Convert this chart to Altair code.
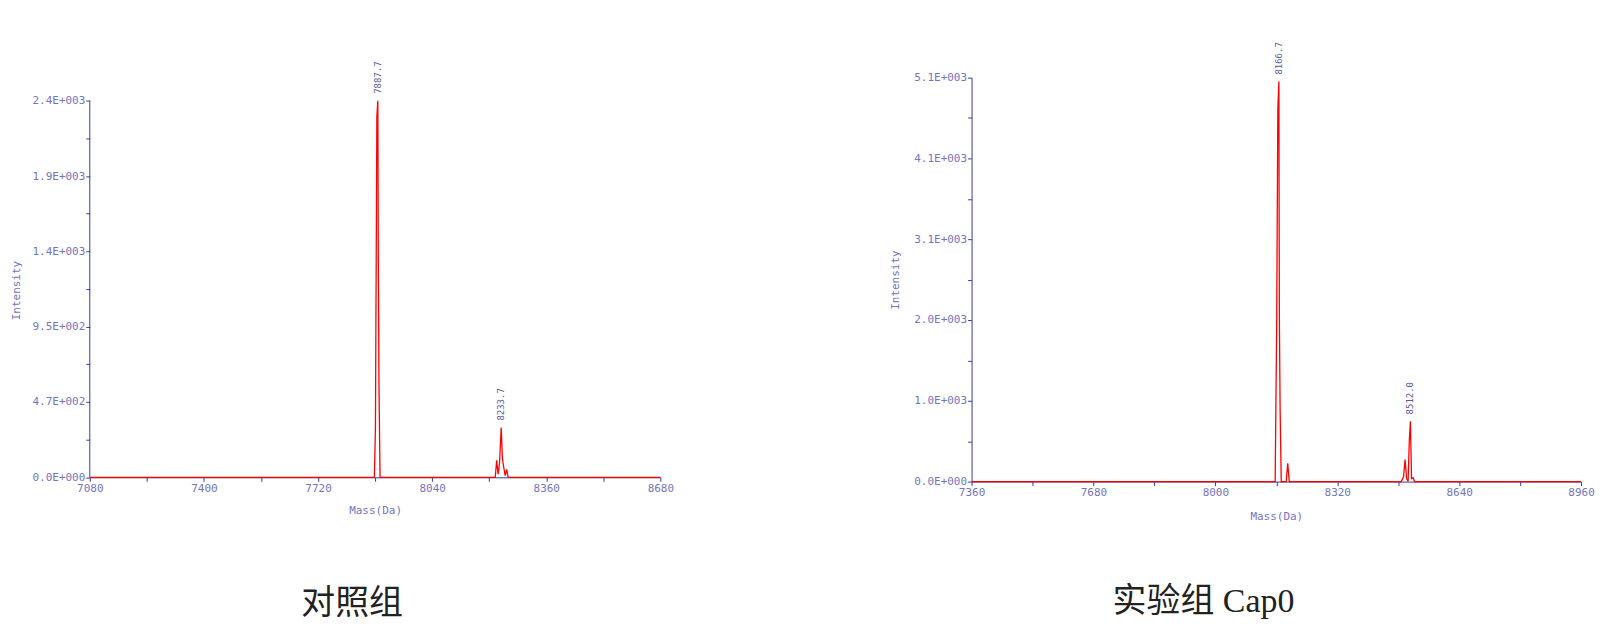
import altair as alt
import pandas as pd

# ---------------- data ----------------
# 对照组 (control) spectrum
CTRL_MASS = [7080, 7870, 7878, 7881, 7885, 7887.7, 7889, 7891, 7894,
             8205, 8217, 8221, 8225, 8229, 8233.7, 8237, 8241, 8245, 8249, 8253, 8680]
CTRL_INTENSITY = [0, 0, 0, 310, 2270, 2370, 1380, 560, 0,
                  0, 0, 107, 20, 90, 313, 120, 60, 10, 50, 0, 0]
CTRL_PEAK_MASS = [7887.7, 8233.7]
CTRL_PEAK_INTENSITY = [2370, 313]
CTRL_PEAK_LABEL = ["7887.7", "8233.7"]
CTRL_Y_TICKS = [0, 474, 948, 1422, 1896, 2370]
CTRL_Y_LABELS = ["0.0E+000", "4.7E+002", "9.5E+002", "1.4E+003", "1.9E+003", "2.4E+003"]
CTRL_X_TICKS = [7080, 7400, 7720, 8040, 8360, 8680]

# 实验组 Cap0 (experiment) spectrum
EXP_MASS = [7360, 8150, 8157, 8161, 8164, 8166.7, 8168, 8170, 8173,
            8186, 8190, 8194,
            8488, 8494, 8498, 8502, 8506, 8509, 8512, 8515, 8519, 8523, 8960]
EXP_INTENSITY = [0, 0, 0, 2000, 4700, 5050, 2100, 900, 0,
                 0, 230, 0,
                 0, 60, 277, 40, 0, 500, 760, 40, 50, 0, 0]
EXP_PEAK_MASS = [8166.7, 8512.0]
EXP_PEAK_INTENSITY = [5050, 760]
EXP_PEAK_LABEL = ["8166.7", "8512.0"]
EXP_Y_TICKS = [0, 1020, 2040, 3060, 4080, 5100]
EXP_Y_LABELS = ["0.0E+000", "1.0E+003", "2.0E+003", "3.1E+003", "4.1E+003", "5.1E+003"]
EXP_X_TICKS = [7360, 7680, 8000, 8320, 8640, 8960]

CAPTIONS = ["对照组", "实验组 Cap0"]

# ---------------- styling ----------------
AXIS_COLOR = "#3a3aa8"
LABEL_COLOR = "#7474c4"
PEAK_LABEL_COLOR = "#5a5a9c"
LINE_COLOR = "#ff0000"
MONO = "DejaVu Sans Mono"
CAPTION_FONT = "Liberation Serif, Noto Sans CJK SC"


def quarter_ticks(major):
    out = []
    for a, b in zip(major[:-1], major[1:]):
        step = (b - a) / 4
        out += [a + i * step for i in range(4)]
    out.append(major[-1])
    return out


def label_expr(values, labels):
    v = "[" + ",".join(repr(x) for x in values) + "]"
    lab = "[" + ",".join("'" + s + "'" for s in labels) + "]"
    return f"indexof({v}, datum.value) >= 0 ? {lab}[indexof({v}, datum.value)] : ''"


def panel(mass, inten, pk_m, pk_i, pk_l, x_major, y_major, y_labels,
          y_domain, width, height, x_offset, title_y, caption, cap_dx, cap_offset,
          own_y_rule, x_title_pad, y_title_pad):
    spec = pd.DataFrame({"mass": mass, "intensity": inten})
    peaks = pd.DataFrame({"mass": pk_m, "intensity": pk_i, "label": pk_l})

    xs = alt.Scale(domain=[x_major[0], x_major[-1]], nice=False, zero=False)
    ys = alt.Scale(domain=y_domain, nice=False, zero=False)

    x_axis = alt.Axis(
        values=quarter_ticks(x_major),
        labelExpr=label_expr(x_major, [str(v) for v in x_major]),
        title="Mass(Da)", grid=False, domainColor=AXIS_COLOR, domainWidth=1,
        tickColor=AXIS_COLOR, tickSize=4, labelColor=LABEL_COLOR, labelFont=MONO,
        labelFontSize=11, labelPadding=1, labelFlush=False, labelOverlap=False,
        titleFont=MONO, titleFontSize=11, titleFontWeight="normal",
        titleColor=LABEL_COLOR, titlePadding=x_title_pad, offset=x_offset,
    )
    y_kwargs = {}
    if title_y is not None:
        y_kwargs["titleY"] = title_y
    y_axis = alt.Axis(
        values=quarter_ticks(y_major),
        labelExpr=label_expr(y_major, y_labels),
        title="Intensity", grid=False, domain=not own_y_rule,
        domainColor=AXIS_COLOR, domainWidth=1,
        tickColor=AXIS_COLOR, tickSize=4, labelColor=LABEL_COLOR, labelFont=MONO,
        labelFontSize=11, labelPadding=1, labelOverlap=False, labelFlush=False,
        titleFont=MONO, titleFontSize=11, titleFontWeight="normal",
        titleColor=LABEL_COLOR, titlePadding=y_title_pad, **y_kwargs,
    )

    line = alt.Chart(spec).mark_line(color=LINE_COLOR, strokeWidth=1.3).encode(
        x=alt.X("mass:Q", scale=xs, axis=x_axis),
        y=alt.Y("intensity:Q", scale=ys, axis=y_axis),
    )
    text = alt.Chart(peaks).mark_text(
        angle=270, align="left", baseline="middle", dx=7,
        font=MONO, fontSize=9, color=PEAK_LABEL_COLOR,
    ).encode(x="mass:Q", y="intensity:Q", text="label:N")

    layers = [line, text]
    if own_y_rule:
        axis_df = pd.DataFrame({"mass": [x_major[0]], "lo": [y_major[0]], "hi": [y_major[-1]]})
        rule = alt.Chart(axis_df).mark_rule(color=AXIS_COLOR, strokeWidth=1).encode(
            x="mass:Q", y="lo:Q", y2="hi:Q")
        layers.append(rule)

    return alt.layer(*layers).properties(
        width=width, height=height,
        title=alt.TitleParams(
            caption, orient="bottom", anchor="middle", dx=cap_dx, offset=cap_offset,
            font=CAPTION_FONT, fontSize=34, fontWeight="normal", color="#222222",
        ),
    )


# left panel: plot data range 2370 spans 378 px; extend domain so the panel
# is as tall as the right one while data sit 23 px lower at the top, 4 px up at bottom
px_per_unit = 378 / 2370
left_domain = [-4.3 / px_per_unit, 2370 + 23.3 / px_per_unit]

left = panel(CTRL_MASS, CTRL_INTENSITY, CTRL_PEAK_MASS, CTRL_PEAK_INTENSITY, CTRL_PEAK_LABEL,
             CTRL_X_TICKS, CTRL_Y_TICKS, CTRL_Y_LABELS, left_domain,
             572, 405, -4.3, 213, CAPTIONS[0], -23, 72, True, 11, 10)
right = panel(EXP_MASS, EXP_INTENSITY, EXP_PEAK_MASS, EXP_PEAK_INTENSITY, EXP_PEAK_LABEL,
              EXP_X_TICKS, EXP_Y_TICKS, EXP_Y_LABELS, [0, 5100],
              611, 405, 0, None, CAPTIONS[1], -73, 64, False, 13, 13)

chart = alt.hconcat(left, right, spacing=312, bounds="flush").configure_view(
    stroke=None
).properties(
    padding={"left": 3, "top": 33, "right": 5, "bottom": 5},
    background="white",
)

chart.save("out.html", embed_options={"renderer": "svg", "actions": False})
